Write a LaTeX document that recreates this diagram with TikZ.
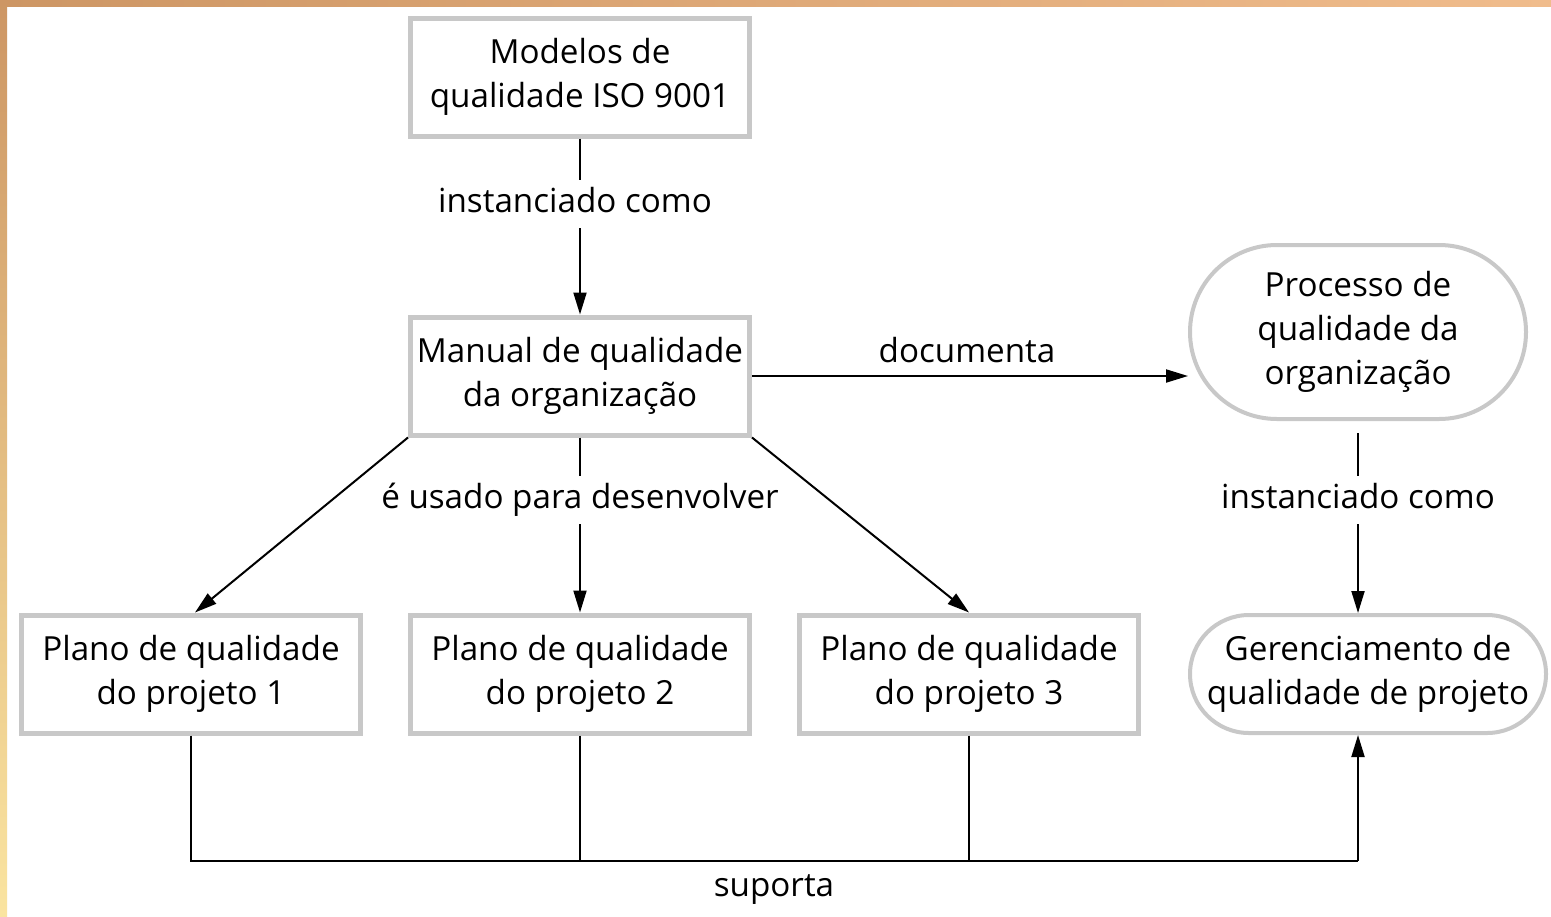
\documentclass[tikz,border=0pt]{standalone}
\usepackage{fontspec}
\setmainfont{Open Sans}
\usetikzlibrary{arrows.meta,shapes.misc}
\definecolor{boxgray}{RGB}{200,200,200}
\definecolor{orA}{RGB}{205,150,100}
\definecolor{orB}{RGB}{240,188,140}
\definecolor{orY}{RGB}{250,228,160}
\begin{document}
\begin{tikzpicture}[x=0.5pt,y=-0.5pt,
  txt/.style={font=\fontsize{16.6}{22}\selectfont, align=center, inner sep=0pt},
  sqbox/.style={txt, draw=boxgray, line width=2.5pt, minimum width=169.5pt, minimum height=59pt},
  rndbox/.style={txt, draw=boxgray, line width=2pt, rounded rectangle, minimum width=168pt},
  lbl/.style={txt, inner ysep=4pt, text height=12pt, text depth=4pt},
  conn/.style={line width=1pt, black},
  arr/.style={conn, -{Triangle[length=11pt,width=6.5pt]}}
]
\useasboundingbox (0,0) rectangle (1551,916);
\fill[white] (0,0) rectangle (1551,916);
\shade[left color=orA, right color=orB] (0,0) rectangle (1551,6);
\shade[top color=orA, bottom color=orY] (0,0) rectangle (7,916);

\node[sqbox] (iso) at (580,77) {Modelos de\\qualidade ISO 9001};
\node[sqbox] (man) at (580,376) {Manual de qualidade\\da organização};
\node[rndbox, minimum height=87pt] (proc) at (1358,332) {Processo de\\qualidade da\\organização};
\node[sqbox] (p1) at (191,674) {Plano de qualidade\\do projeto 1};
\node[sqbox] (p2) at (580,674) {Plano de qualidade\\do projeto 2};
\node[sqbox] (p3) at (969,674) {Plano de qualidade\\do projeto 3};
\node[rndbox, minimum height=59pt, minimum width=178pt] (ger) at (1368,674) {Gerenciamento de\\qualidade de projeto};

% labels
\node[lbl] (l1) at (575,204) {instanciado como};
\node[txt] (l2) at (967,350) {documenta};
\node[lbl] (l3) at (580,500) {é usado para desenvolver};
\node[lbl] (l4) at (1358,500) {instanciado como};
\node[txt] (l5) at (774,890) {suporta};

\coordinate (sup1) at (191,861);
\coordinate (sup2) at (580,861);
\coordinate (sup3) at (969,861);
\coordinate (supE) at (1358,861);
\coordinate (procB) at (1358,433);

% connectors
\draw[conn] (iso.south) -- (iso.south |- l1.north);
\draw[arr] (iso.south |- l1.south) -- (man.north);
\draw[arr] (man.east) -- (man.east -| proc.west);
\draw[conn] (man.south) -- (man.south |- l3.north);
\draw[arr] (man.south |- l3.south) -- (p2.north);
\draw[arr] (man.south west) -- ([xshift=2pt]p1.north);
\draw[arr] (man.south east) -- (p3.north);
\draw[conn] (procB) -- (procB |- l4.north);
\draw[arr] (procB |- l4.south) -- (procB |- ger.north);

\draw[conn] (p1.south) -- (sup1) -- (supE);
\draw[conn] (p2.south) -- (sup2);
\draw[conn] (p3.south) -- (sup3);
\draw[arr] (supE) -- (supE |- ger.south);
\end{tikzpicture}
\end{document}
